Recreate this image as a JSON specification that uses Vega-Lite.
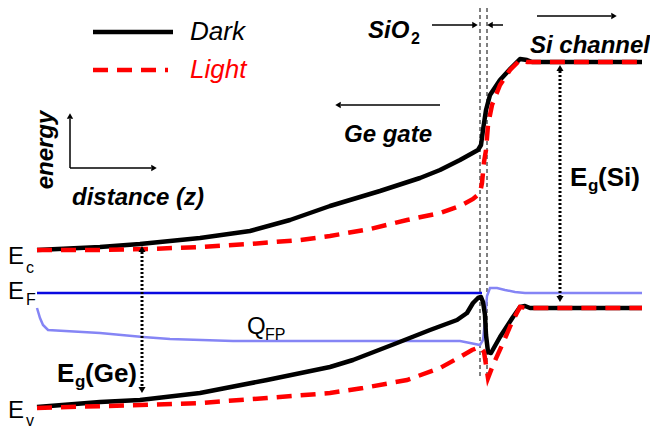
{
  "$schema": "https://vega.github.io/schema/vega-lite/v6.json",
  "width": 650,
  "height": 428,
  "padding": 0,
  "autosize": {"type": "none"},
  "background": "white",
  "config": {"view": {"stroke": null}, "text": {"font": "Liberation Sans"}},
  "datasets": {
    "curves": [
      {"s": "darkEc", "i": 0, "x": 37, "y": 250}, {"s": "darkEc", "i": 1, "x": 100, "y": 247}, {"s": "darkEc", "i": 2, "x": 140, "y": 244}, {"s": "darkEc", "i": 3, "x": 200, "y": 238}, {"s": "darkEc", "i": 4, "x": 250, "y": 231}, {"s": "darkEc", "i": 5, "x": 290, "y": 220}, {"s": "darkEc", "i": 6, "x": 330, "y": 206}, {"s": "darkEc", "i": 7, "x": 380, "y": 191}, {"s": "darkEc", "i": 8, "x": 420, "y": 178}, {"s": "darkEc", "i": 9, "x": 440, "y": 170}, {"s": "darkEc", "i": 10, "x": 460, "y": 160}, {"s": "darkEc", "i": 11, "x": 478, "y": 150}, {"s": "darkEc", "i": 12, "x": 481, "y": 145}, {"s": "darkEc", "i": 13, "x": 483, "y": 130}, {"s": "darkEc", "i": 14, "x": 486, "y": 110}, {"s": "darkEc", "i": 15, "x": 490, "y": 95}, {"s": "darkEc", "i": 16, "x": 500, "y": 80}, {"s": "darkEc", "i": 17, "x": 512, "y": 67}, {"s": "darkEc", "i": 18, "x": 520, "y": 59}, {"s": "darkEc", "i": 19, "x": 527, "y": 60}, {"s": "darkEc", "i": 20, "x": 532, "y": 62}, {"s": "darkEc", "i": 21, "x": 642, "y": 62},
      {"s": "lightEc", "i": 0, "x": 37, "y": 250}, {"s": "lightEc", "i": 1, "x": 100, "y": 250}, {"s": "lightEc", "i": 2, "x": 150, "y": 249}, {"s": "lightEc", "i": 3, "x": 200, "y": 247}, {"s": "lightEc", "i": 4, "x": 250, "y": 244}, {"s": "lightEc", "i": 5, "x": 300, "y": 240}, {"s": "lightEc", "i": 6, "x": 330, "y": 236}, {"s": "lightEc", "i": 7, "x": 370, "y": 229}, {"s": "lightEc", "i": 8, "x": 407, "y": 220}, {"s": "lightEc", "i": 9, "x": 440, "y": 213}, {"s": "lightEc", "i": 10, "x": 460, "y": 206}, {"s": "lightEc", "i": 11, "x": 473, "y": 199}, {"s": "lightEc", "i": 12, "x": 480, "y": 193}, {"s": "lightEc", "i": 13, "x": 482, "y": 183}, {"s": "lightEc", "i": 14, "x": 484, "y": 162}, {"s": "lightEc", "i": 15, "x": 486, "y": 150}, {"s": "lightEc", "i": 16, "x": 488, "y": 125}, {"s": "lightEc", "i": 17, "x": 492, "y": 105}, {"s": "lightEc", "i": 18, "x": 500, "y": 85}, {"s": "lightEc", "i": 19, "x": 510, "y": 70}, {"s": "lightEc", "i": 20, "x": 520, "y": 60}, {"s": "lightEc", "i": 21, "x": 527, "y": 62}, {"s": "lightEc", "i": 22, "x": 642, "y": 62},
      {"s": "darkEv", "i": 0, "x": 37, "y": 407}, {"s": "darkEv", "i": 1, "x": 100, "y": 402}, {"s": "darkEv", "i": 2, "x": 140, "y": 400}, {"s": "darkEv", "i": 3, "x": 200, "y": 393}, {"s": "darkEv", "i": 4, "x": 267, "y": 380}, {"s": "darkEv", "i": 5, "x": 330, "y": 367}, {"s": "darkEv", "i": 6, "x": 353, "y": 360}, {"s": "darkEv", "i": 7, "x": 397, "y": 343}, {"s": "darkEv", "i": 8, "x": 430, "y": 330}, {"s": "darkEv", "i": 9, "x": 457, "y": 320}, {"s": "darkEv", "i": 10, "x": 467, "y": 313}, {"s": "darkEv", "i": 11, "x": 473, "y": 303}, {"s": "darkEv", "i": 12, "x": 478, "y": 298}, {"s": "darkEv", "i": 13, "x": 481, "y": 297}, {"s": "darkEv", "i": 14, "x": 483, "y": 302}, {"s": "darkEv", "i": 15, "x": 485, "y": 315}, {"s": "darkEv", "i": 16, "x": 486, "y": 335}, {"s": "darkEv", "i": 17, "x": 488, "y": 352}, {"s": "darkEv", "i": 18, "x": 491, "y": 353}, {"s": "darkEv", "i": 19, "x": 500, "y": 337}, {"s": "darkEv", "i": 20, "x": 513, "y": 317}, {"s": "darkEv", "i": 21, "x": 520, "y": 307}, {"s": "darkEv", "i": 22, "x": 525, "y": 306}, {"s": "darkEv", "i": 23, "x": 530, "y": 308}, {"s": "darkEv", "i": 24, "x": 642, "y": 308},
      {"s": "lightEv", "i": 0, "x": 37, "y": 408}, {"s": "lightEv", "i": 1, "x": 140, "y": 405}, {"s": "lightEv", "i": 2, "x": 200, "y": 403}, {"s": "lightEv", "i": 3, "x": 267, "y": 398}, {"s": "lightEv", "i": 4, "x": 330, "y": 393}, {"s": "lightEv", "i": 5, "x": 363, "y": 388}, {"s": "lightEv", "i": 6, "x": 407, "y": 380}, {"s": "lightEv", "i": 7, "x": 440, "y": 368}, {"s": "lightEv", "i": 8, "x": 460, "y": 357}, {"s": "lightEv", "i": 9, "x": 472, "y": 350}, {"s": "lightEv", "i": 10, "x": 480, "y": 347}, {"s": "lightEv", "i": 11, "x": 484, "y": 352}, {"s": "lightEv", "i": 12, "x": 486, "y": 365}, {"s": "lightEv", "i": 13, "x": 488, "y": 378}, {"s": "lightEv", "i": 14, "x": 493, "y": 365}, {"s": "lightEv", "i": 15, "x": 503, "y": 343}, {"s": "lightEv", "i": 16, "x": 512, "y": 322}, {"s": "lightEv", "i": 17, "x": 520, "y": 307}, {"s": "lightEv", "i": 18, "x": 527, "y": 308}, {"s": "lightEv", "i": 19, "x": 642, "y": 308},
      {"s": "EF", "i": 0, "x": 37, "y": 293}, {"s": "EF", "i": 1, "x": 482, "y": 293},
      {"s": "QFP", "i": 0, "x": 37, "y": 308}, {"s": "QFP", "i": 1, "x": 40, "y": 318}, {"s": "QFP", "i": 2, "x": 43, "y": 325}, {"s": "QFP", "i": 3, "x": 48, "y": 330}, {"s": "QFP", "i": 4, "x": 100, "y": 333}, {"s": "QFP", "i": 5, "x": 143, "y": 337}, {"s": "QFP", "i": 6, "x": 170, "y": 339}, {"s": "QFP", "i": 7, "x": 233, "y": 341}, {"s": "QFP", "i": 8, "x": 330, "y": 341}, {"s": "QFP", "i": 9, "x": 460, "y": 341}, {"s": "QFP", "i": 10, "x": 470, "y": 343}, {"s": "QFP", "i": 11, "x": 480, "y": 345}, {"s": "QFP", "i": 12, "x": 483, "y": 340}, {"s": "QFP", "i": 13, "x": 485, "y": 320}, {"s": "QFP", "i": 14, "x": 487, "y": 296}, {"s": "QFP", "i": 15, "x": 490, "y": 288}, {"s": "QFP", "i": 16, "x": 497, "y": 288}, {"s": "QFP", "i": 17, "x": 505, "y": 290}, {"s": "QFP", "i": 18, "x": 515, "y": 292}, {"s": "QFP", "i": 19, "x": 525, "y": 293}, {"s": "QFP", "i": 20, "x": 642, "y": 293},
      {"s": "legDark", "i": 0, "x": 93, "y": 32}, {"s": "legDark", "i": 1, "x": 173, "y": 32},
      {"s": "legLight", "i": 0, "x": 93, "y": 70}, {"s": "legLight", "i": 1, "x": 168, "y": 70}
    ],
    "rules": [
      {"k": "oxide", "x": 480, "y": 8, "x2": 480, "y2": 378},
      {"k": "oxide", "x": 487, "y": 8, "x2": 487, "y2": 378},
      {"k": "thin", "x": 70, "y": 168, "x2": 70, "y2": 119},
      {"k": "thin", "x": 70, "y": 168, "x2": 151, "y2": 168},
      {"k": "thin", "x": 432, "y": 25, "x2": 473, "y2": 25},
      {"k": "thin", "x": 503, "y": 25, "x2": 492, "y2": 25},
      {"k": "thin", "x": 537, "y": 16, "x2": 611, "y2": 16},
      {"k": "thin", "x": 440, "y": 105, "x2": 341, "y2": 105},
      {"k": "dotted", "x": 560, "y": 71, "x2": 560, "y2": 297},
      {"k": "dotted", "x": 142, "y": 252, "x2": 142, "y2": 388}
    ],
    "heads": [
      {"k": "thin", "x": 70, "y": 116, "d": "up"},
      {"k": "thin", "x": 154, "y": 168, "d": "right"},
      {"k": "thin", "x": 475, "y": 25, "d": "right"},
      {"k": "thin", "x": 490, "y": 25, "d": "left"},
      {"k": "thin", "x": 614, "y": 16, "d": "right"},
      {"k": "thin", "x": 338, "y": 105, "d": "left"},
      {"k": "dotted", "x": 560, "y": 68, "d": "up"},
      {"k": "dotted", "x": 560, "y": 299, "d": "down"},
      {"k": "dotted", "x": 142, "y": 249, "d": "up"},
      {"k": "dotted", "x": 142, "y": 390, "d": "down"}
    ],
    "texts": [
      {"g": "legBlack", "t": "Dark", "x": 190, "y": 40},
      {"g": "legRed", "t": "Light", "x": 190, "y": 78},
      {"g": "boldItalic", "t": "SiO", "x": 368, "y": 38},
      {"g": "boldItalic", "t": "Si channel", "x": 530, "y": 53},
      {"g": "boldItalic", "t": "Ge gate", "x": 344, "y": 142},
      {"g": "boldItalic", "t": "distance (z)", "x": 72, "y": 205},
      {"g": "sub2", "t": "2", "x": 411, "y": 44},
      {"g": "egBig", "t": "E", "x": 570, "y": 186},
      {"g": "egSub", "t": "g", "x": 588, "y": 191},
      {"g": "egBig", "t": "(Si)", "x": 598, "y": 186},
      {"g": "egBig", "t": "E", "x": 57, "y": 382},
      {"g": "egSub", "t": "g", "x": 75, "y": 387},
      {"g": "egBig", "t": "(Ge)", "x": 85, "y": 382},
      {"g": "labelBig", "t": "E", "x": 8, "y": 264},
      {"g": "labelSub", "t": "c", "x": 26, "y": 273},
      {"g": "labelBig", "t": "E", "x": 8, "y": 299},
      {"g": "labelSub", "t": "F", "x": 26, "y": 305},
      {"g": "labelBig", "t": "E", "x": 8, "y": 418},
      {"g": "labelSub", "t": "v", "x": 26, "y": 426},
      {"g": "labelBig", "t": "Q", "x": 247, "y": 334},
      {"g": "labelSub", "t": "FP", "x": 265, "y": 340},
      {"g": "energy", "t": "energy", "x": 53, "y": 150}
    ]
  },
  "encoding": {
    "x": {"field": "x", "type": "quantitative", "scale": {"domain": [0, 650], "nice": false, "zero": false}, "axis": null},
    "y": {"field": "y", "type": "quantitative", "scale": {"domain": [0, 428], "reverse": true, "nice": false, "zero": false}, "axis": null}
  },
  "layer": [
    {
      "data": {"name": "rules"},
      "transform": [{"filter": "datum.k == 'oxide'"}],
      "mark": {"type": "rule", "color": "black", "strokeWidth": 1, "strokeDash": [4, 3]},
      "encoding": {"x2": {"field": "x2"}, "y2": {"field": "y2"}}
    },
    {
      "data": {"name": "curves"},
      "transform": [{"filter": "datum.s == 'QFP'"}],
      "mark": {"type": "line", "color": "#8585f5", "strokeWidth": 2.5},
      "encoding": {"order": {"field": "i", "type": "quantitative"}}
    },
    {
      "data": {"name": "curves"},
      "transform": [{"filter": "datum.s == 'EF'"}],
      "mark": {"type": "line", "color": "#0a0ae0", "strokeWidth": 2.5},
      "encoding": {"order": {"field": "i", "type": "quantitative"}}
    },
    {
      "data": {"name": "curves"},
      "transform": [{"filter": "datum.s == 'darkEc' || datum.s == 'darkEv' || datum.s == 'legDark'"}],
      "mark": {"type": "line", "color": "black", "strokeWidth": 4.5, "strokeJoin": "round"},
      "encoding": {"detail": {"field": "s"}, "order": {"field": "i", "type": "quantitative"}}
    },
    {
      "data": {"name": "curves"},
      "transform": [{"filter": "datum.s == 'lightEc' || datum.s == 'lightEv' || datum.s == 'legLight'"}],
      "mark": {"type": "line", "color": "#ff0000", "strokeWidth": 4.5, "strokeDash": [15, 9]},
      "encoding": {"detail": {"field": "s"}, "order": {"field": "i", "type": "quantitative"}}
    },
    {
      "data": {"name": "rules"},
      "transform": [{"filter": "datum.k == 'thin'"}],
      "mark": {"type": "rule", "color": "black", "strokeWidth": 1.5},
      "encoding": {"x2": {"field": "x2"}, "y2": {"field": "y2"}}
    },
    {
      "data": {"name": "rules"},
      "transform": [{"filter": "datum.k == 'dotted'"}],
      "mark": {"type": "rule", "color": "black", "strokeWidth": 3, "strokeDash": [2, 2]},
      "encoding": {"x2": {"field": "x2"}, "y2": {"field": "y2"}}
    },
    {
      "data": {"name": "heads"},
      "transform": [{"filter": "datum.k == 'thin'"}],
      "mark": {"type": "point", "filled": true, "color": "black", "opacity": 1, "size": 40},
      "encoding": {"shape": {"field": "d", "type": "nominal", "scale": {"domain": ["up", "down", "left", "right"], "range": ["triangle-up", "triangle-down", "triangle-left", "triangle-right"]}, "legend": null}}
    },
    {
      "data": {"name": "heads"},
      "transform": [{"filter": "datum.k == 'dotted'"}],
      "mark": {"type": "point", "filled": true, "color": "black", "opacity": 1, "size": 50},
      "encoding": {"shape": {"field": "d", "type": "nominal", "scale": {"domain": ["up", "down", "left", "right"], "range": ["triangle-up", "triangle-down", "triangle-left", "triangle-right"]}, "legend": null}}
    },
    {
      "data": {"name": "texts"},
      "transform": [{"filter": "datum.g == 'legBlack'"}],
      "mark": {"type": "text", "align": "left", "baseline": "alphabetic", "fontSize": 26, "fontStyle": "italic", "color": "black"},
      "encoding": {"text": {"field": "t"}}
    },
    {
      "data": {"name": "texts"},
      "transform": [{"filter": "datum.g == 'legRed'"}],
      "mark": {"type": "text", "align": "left", "baseline": "alphabetic", "fontSize": 26, "fontStyle": "italic", "color": "#ff0000"},
      "encoding": {"text": {"field": "t"}}
    },
    {
      "data": {"name": "texts"},
      "transform": [{"filter": "datum.g == 'boldItalic'"}],
      "mark": {"type": "text", "align": "left", "baseline": "alphabetic", "fontSize": 24, "fontStyle": "italic", "fontWeight": "bold", "color": "black"},
      "encoding": {"text": {"field": "t"}}
    },
    {
      "data": {"name": "texts"},
      "transform": [{"filter": "datum.g == 'energy'"}],
      "mark": {"type": "text", "align": "center", "baseline": "alphabetic", "angle": 270, "fontSize": 24, "fontStyle": "italic", "fontWeight": "bold", "color": "black"},
      "encoding": {"text": {"field": "t"}}
    },
    {
      "data": {"name": "texts"},
      "transform": [{"filter": "datum.g == 'sub2'"}],
      "mark": {"type": "text", "align": "left", "baseline": "alphabetic", "fontSize": 16, "fontWeight": "bold", "color": "black"},
      "encoding": {"text": {"field": "t"}}
    },
    {
      "data": {"name": "texts"},
      "transform": [{"filter": "datum.g == 'egBig'"}],
      "mark": {"type": "text", "align": "left", "baseline": "alphabetic", "fontSize": 26, "fontWeight": "bold", "color": "black"},
      "encoding": {"text": {"field": "t"}}
    },
    {
      "data": {"name": "texts"},
      "transform": [{"filter": "datum.g == 'egSub'"}],
      "mark": {"type": "text", "align": "left", "baseline": "alphabetic", "fontSize": 17, "fontWeight": "bold", "color": "black"},
      "encoding": {"text": {"field": "t"}}
    },
    {
      "data": {"name": "texts"},
      "transform": [{"filter": "datum.g == 'labelBig'"}],
      "mark": {"type": "text", "align": "left", "baseline": "alphabetic", "fontSize": 24, "color": "black"},
      "encoding": {"text": {"field": "t"}}
    },
    {
      "data": {"name": "texts"},
      "transform": [{"filter": "datum.g == 'labelSub'"}],
      "mark": {"type": "text", "align": "left", "baseline": "alphabetic", "fontSize": 16, "color": "black"},
      "encoding": {"text": {"field": "t"}}
    }
  ]
}
